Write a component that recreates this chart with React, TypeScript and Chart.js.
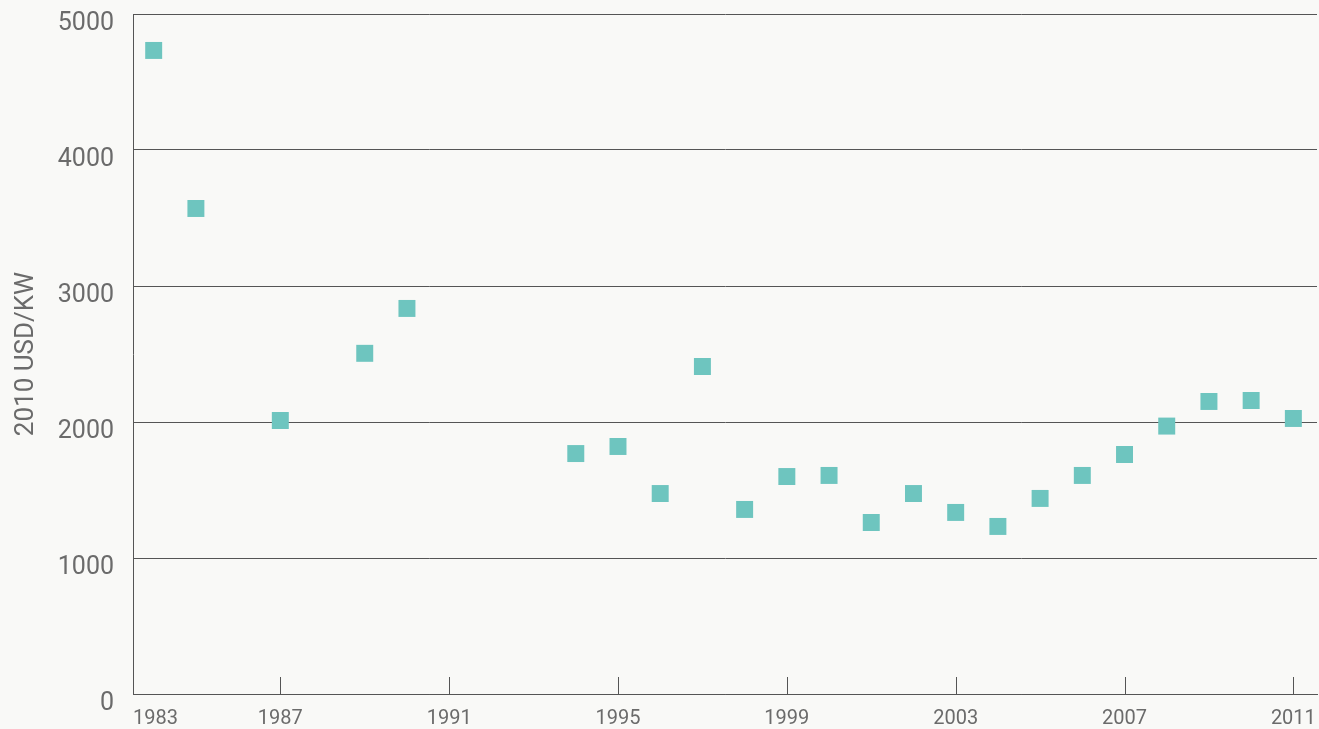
import React, { useEffect, useRef } from "react";
import { Chart, registerables } from "chart.js";

Chart.register(...registerables);

const years = [1984, 1985, 1987, 1989, 1990, 1994, 1995, 1996, 1997, 1998, 1999, 2000, 2001, 2002, 2003, 2004, 2005, 2006, 2007, 2008, 2009, 2010, 2011];
const costs = [4732, 3570, 2011, 2505, 2835, 1768, 1820, 1474, 2408, 1357, 1599, 1607, 1261, 1474, 1335, 1232, 1438, 1607, 1761, 1970, 2151, 2158, 2026];
const xTickLabels = ["1983", "1987", "1991", "1995", "1999", "2003", "2007", "2011"];
const xTickValues = [1987, 1991, 1995, 1999, 2003, 2007, 2011];
const yTicks = [0, 1000, 2000, 3000, 4000, 5000];

const X_MIN = 1983.51;
const X_MAX = 2011.56;

const tickMarks = {
  id: "innerTickMarks",
  beforeDatasetsDraw(chart: any) {
    const xs = chart.scales.x;
    const ctx = chart.ctx;
    const bottom = chart.chartArea.bottom;
    ctx.save();
    ctx.strokeStyle = "#555555";
    ctx.lineWidth = 1;
    xs.ticks.forEach((t: any) => {
      if (!xTickValues.includes(t.value)) return;
      const px = Math.round(xs.getPixelForValue(t.value)) + 0.5;
      ctx.beginPath();
      ctx.moveTo(px, bottom - 17);
      ctx.lineTo(px, bottom);
      ctx.stroke();
    });
    ctx.restore();
  },
};

export default function App() {
  const ref = useRef<HTMLCanvasElement | null>(null);
  useEffect(() => {
    document.body.style.margin = "0";
    const chart = new Chart(ref.current as HTMLCanvasElement, {
      type: "scatter",
      data: {
        datasets: [
          {
            data: years.map((y, i) => ({ x: y, y: costs[i] })),
            pointStyle: "rect",
            pointRadius: 12,
            pointHoverRadius: 12,
            borderWidth: 0,
            backgroundColor: "#6ec5bf",
            borderColor: "#6ec5bf",
          },
        ],
      },
      plugins: [tickMarks],
      options: {
        animation: false,
        responsive: false,
        events: [],
        layout: { autoPadding: false, padding: { top: 14, right: 2, left: 0, bottom: 0 } },
        plugins: { legend: { display: false }, tooltip: { enabled: false } },
        scales: {
          x: {
            type: "linear",
            min: X_MIN,
            max: X_MAX,
            afterBuildTicks: (scale: any) => {
              scale.ticks = [
                { value: X_MIN },
                ...xTickValues.map((v) => ({ value: v })),
                { value: X_MAX },
              ];
            },
            afterFit: (scale: any) => {
              scale.height = 35;
              scale.paddingLeft = 0;
              scale.paddingRight = 0;
            },
            grid: { display: false, drawTicks: false },
            border: { display: true, color: "#555555", width: 1 },
            ticks: {
              autoSkip: false,
              maxRotation: 0,
              align: "inner",
              padding: 13,
              color: "#6b6b6b",
              font: { family: "Roboto", size: 20 },
              callback: (value: any, index: number) => {
                if (index === 0) return xTickLabels[0];
                const k = xTickValues.indexOf(value);
                return k >= 0 ? xTickLabels[k + 1] : "";
              },
            },
          },
          y: {
            min: 0,
            max: 5000,
            afterBuildTicks: (scale: any) => {
              scale.ticks = yTicks.map((v) => ({ value: v }));
            },
            afterFit: (scale: any) => {
              scale.width = 133;
              scale.paddingTop = 0;
              scale.paddingBottom = 0;
            },
            grid: { color: "#555555", lineWidth: 1, drawTicks: false },
            border: { display: true, color: "#555555", width: 1 },
            ticks: {
              padding: 19,
              labelOffset: 10,
              color: "#6b6b6b",
              font: { family: "Roboto", size: 25 },
              callback: (value: any) => String(value),
            },
            title: {
              display: true,
              text: "2010 USD/KW",
              color: "#6b6b6b",
              font: { family: "Roboto", size: 26 },
              padding: { top: 11, bottom: 0 },
            },
          },
        },
      },
    });
    return () => chart.destroy();
  }, []);
  return (
    <div style={{ position: "fixed", left: 0, top: 0, width: 1319, height: 729, background: "#f9f9f7" }}>
      <canvas ref={ref} width={1319} height={729} style={{ display: "block" }} />
    </div>
  );
}
